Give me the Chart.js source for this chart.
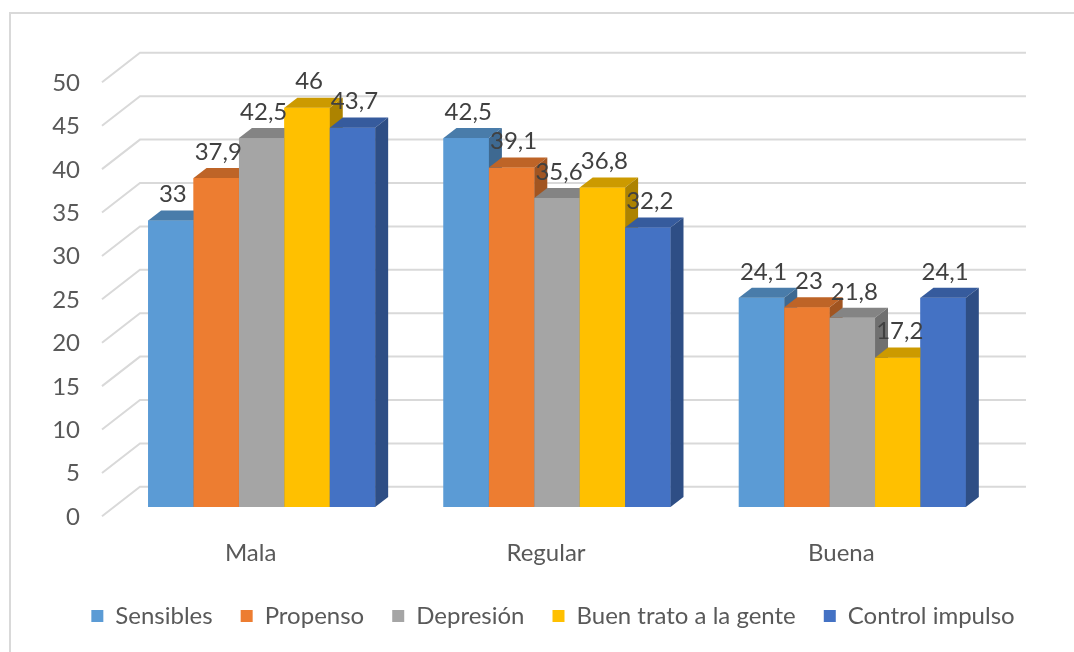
<!DOCTYPE html>
<html>
<head>
<meta charset="utf-8">
<script src="https://cdn.jsdelivr.net/npm/chart.js@4/dist/chart.umd.min.js"></script>
<style>
html,body{margin:0;padding:0;background:#fff;}
canvas{display:block;}
</style>
</head>
<body>
<canvas id="c" width="1074" height="652"></canvas>
<script>
// ---- data ----
const categories = ['Mala', 'Regular', 'Buena'];
const seriesNames = ['Sensibles', 'Propenso', 'Depresión', 'Buen trato a la gente', 'Control impulso'];
const sensibles = [33, 42.5, 24.1];
const propenso = [37.9, 39.1, 23];
const depresion = [42.5, 35.6, 21.8];
const buenTrato = [46, 36.8, 17.2];
const controlImpulso = [43.7, 32.2, 24.1];
const yTicks = [0, 5, 10, 15, 20, 25, 30, 35, 40, 45, 50];

// ---- styles ----
const seriesValues = [sensibles, propenso, depresion, buenTrato, controlImpulso];
const colors = ['#5B9BD5', '#ED7D31', '#A5A5A5', '#FFC000', '#4472C4'];
const FONT = 'Lato';
const DEPTH = {dx: 38, dy: -29.5};
const FRONT = 0.316;
const BAR_DEPTH = 0.342;

function shade(hex, f) {
  const n = parseInt(hex.slice(1), 16);
  const r = Math.round(((n >> 16) & 255) * f);
  const g = Math.round(((n >> 8) & 255) * f);
  const b = Math.round((n & 255) * f);
  return `rgb(${r},${g},${b})`;
}

const plot3d = {
  id: 'plot3d',
  beforeDraw(chart) {
    const ctx = chart.ctx;
    ctx.save();
    ctx.strokeStyle = '#d9d9d9';
    ctx.lineWidth = 2;
    ctx.strokeRect(10, 13, chart.width + 40, chart.height + 40);
    ctx.restore();
  },
  beforeDatasetsDraw(chart) {
    const {ctx, chartArea} = chart;
    const y = chart.scales.y;
    const fx = chartArea.left - FRONT * DEPTH.dx;
    const fyOff = -FRONT * DEPTH.dy;
    const bx = chartArea.left + (1 - FRONT) * DEPTH.dx;
    const byOff = (1 - FRONT) * DEPTH.dy;
    const rx = chartArea.right + (1 - FRONT) * DEPTH.dx;
    ctx.save();
    ctx.strokeStyle = '#d9d9d9';
    ctx.lineWidth = 2;
    yTicks.forEach(v => {
      const py = y.getPixelForValue(v);
      ctx.beginPath();
      ctx.moveTo(fx, py + fyOff);
      ctx.lineTo(bx, py + byOff);
      ctx.lineTo(rx, py + byOff);
      ctx.stroke();
    });
    ctx.restore();
  },
  afterDatasetsDraw(chart) {
    const ctx = chart.ctx;
    const ddx = BAR_DEPTH * DEPTH.dx, ddy = BAR_DEPTH * DEPTH.dy;
    const n = chart.data.datasets.length;
    ctx.save();
    for (let j = 0; j < categories.length; j++) {
      for (let i = 0; i < n; i++) {
        const el = chart.getDatasetMeta(i).data[j];
        const p = el.getProps(['x', 'y', 'base', 'width'], true);
        const l = p.x - p.width / 2, r = p.x + p.width / 2;
        const col = colors[i];
        // front
        ctx.fillStyle = col;
        ctx.fillRect(l, p.y, r - l, p.base - p.y);
        // top
        ctx.fillStyle = shade(col, 0.8);
        ctx.beginPath();
        ctx.moveTo(l, p.y);
        ctx.lineTo(l + ddx, p.y + ddy);
        ctx.lineTo(r + ddx, p.y + ddy);
        ctx.lineTo(r, p.y);
        ctx.closePath();
        ctx.fill();
        // side
        ctx.fillStyle = shade(col, 0.68);
        ctx.beginPath();
        ctx.moveTo(r, p.y);
        ctx.lineTo(r + ddx, p.y + ddy);
        ctx.lineTo(r + ddx, p.base + ddy);
        ctx.lineTo(r, p.base);
        ctx.closePath();
        ctx.fill();
      }
    }
    // data labels
    ctx.fillStyle = '#404040';
    ctx.font = `24px ${FONT}`;
    ctx.textAlign = 'center';
    ctx.textBaseline = 'middle';
    for (let i = 0; i < n; i++) {
      const meta = chart.getDatasetMeta(i);
      meta.data.forEach((el, j) => {
        const p = el.getProps(['x', 'y'], true);
        const txt = String(seriesValues[i][j]).replace('.', ',');
        ctx.fillText(txt, p.x + 2, p.y - 26);
      });
    }
    ctx.restore();
  }
};

function draw() {
  Chart.defaults.font.family = FONT;
  Chart.defaults.font.size = 24;
  Chart.defaults.color = '#595959';
  new Chart(document.getElementById('c'), {
    type: 'bar',
    data: {
      labels: categories,
      datasets: seriesNames.map((name, i) => ({
        label: name,
        data: seriesValues[i],
        backgroundColor: colors[i],
        borderWidth: 0,
        categoryPercentage: 0.7686,
        barPercentage: 1.0
      }))
    },
    options: {
      responsive: false,
      animation: false,
      devicePixelRatio: 1,
      layout: {padding: {left: 32, right: 0, top: 73, bottom: 14}},
      plugins: {
        tooltip: {enabled: false},
        legend: {
          position: 'bottom',
          labels: {
            boxWidth: 12,
            boxHeight: 12,
            padding: 28,
            color: '#595959',
            font: {family: FONT, size: 24}
          }
        }
      },
      scales: {
        x: {
          grid: {display: false, drawTicks: false},
          border: {display: false},
          ticks: {padding: 32, labelOffset: -11, color: '#595959', font: {family: FONT, size: 24}},
          afterFit(s) { s.height = 69; }
        },
        y: {
          min: yTicks[0],
          max: yTicks[yTicks.length - 1],
          grid: {display: false, drawTicks: false},
          border: {display: false},
          ticks: {stepSize: 5, padding: 34, labelOffset: 10, color: '#595959', font: {family: FONT, size: 24}},
          afterFit(s) { s.width = 82; }
        },
        y2: {
          position: 'right',
          min: 0, max: 50,
          grid: {display: false, drawTicks: false},
          border: {display: false},
          ticks: {display: false},
          afterFit(s) { s.width = 74; }
        }
      }
    },
    plugins: [plot3d]
  });
}

if (document.fonts && document.fonts.load) {
  document.fonts.load(`24px ${FONT}`).then(draw, draw);
} else {
  draw();
}
</script>
</body>
</html>
